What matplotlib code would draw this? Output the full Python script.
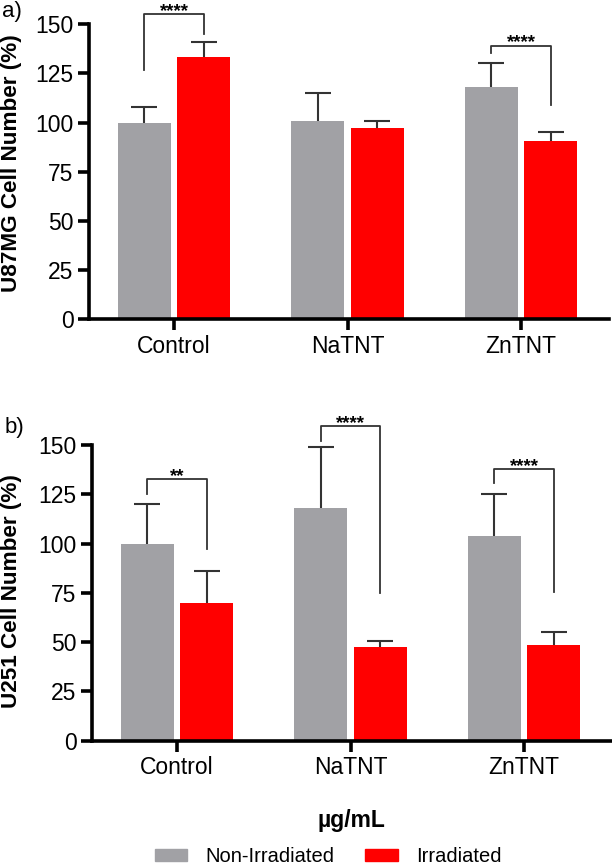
import numpy as np
import matplotlib
matplotlib.use("Agg")
from matplotlib import pyplot as plt
from matplotlib.patches import Patch

plt.rcParams["font.family"] = ["Liberation Sans", "DejaVu Sans"]

# data
groups = ["Control", "NaTNT", "ZnTNT"]

u87_non = [100, 100.6, 118.2]
u87_non_sd = [8, 14.7, 12.2]
u87_irr = [133.6, 97.5, 90.7]
u87_irr_sd = [7.6, 3.5, 4.8]

u251_non = [100, 117.9, 103.8]
u251_non_sd = [20, 31, 21.3]
u251_irr = [69.6, 47.6, 48.3]
u251_irr_sd = [16.4, 2.9, 6.8]

# significance brackets: group index, left leg bottom, top, right leg bottom, stars
u87_sig = [(0, 126.8, 155.2, 145, "****"), (2, 135.3, 139.2, 109, "****")]
u251_sig = [(0, 125, 132.6, 97, "**"), (1, 152, 159.7, 74.7, "****"),
            (2, 130.5, 138, 75.4, "****")]

grey = "#a1a1a5"
red = "#ff0000"
dark = "#333333"
off = 0.172
bw = 0.305

fig = plt.figure(figsize=(6.12, 8.67), dpi=100)
ax1 = fig.add_axes([0.1454, 0.6315, 0.8505, 0.3405])
ax2 = fig.add_axes([0.1503, 0.1459, 0.8505, 0.3408])


def panel(ax, non, non_sd, irr, irr_sd, sig):
    x = np.arange(len(groups))
    ax.bar(x - off, non, bw, color=grey, zorder=2)
    ax.bar(x + off, irr, bw, color=red, zorder=2)
    for xs, v, s in [(x - off, non, non_sd), (x + off, irr, irr_sd)]:
        eb = ax.errorbar(xs, v, yerr=[np.zeros(len(v)), s], fmt="none",
                         ecolor=dark, elinewidth=1.5, capsize=9.5,
                         capthick=1.5, zorder=3, clip_on=False)
        eb[1][0].set_visible(False)  # only the upper cap
    for g, yl, yt, yr, stars in sig:
        x0, x1 = g - off, g + off
        ax.plot([x0, x0, x1, x1], [yl, yt, yt, yr], color=dark, lw=1.3,
                clip_on=False, zorder=4)
        ax.text(g, yt - 1.0, stars, ha="center", va="baseline", fontsize=13.5,
                fontweight="bold", clip_on=False)
    ax.set_xlim(-0.49, 2.51)
    ax.set_ylim(0, 150)
    ax.set_yticks([0, 25, 50, 75, 100, 125, 150])
    ax.set_xticks(x)
    ax.set_xticklabels(groups)
    for sp in ["top", "right"]:
        ax.spines[sp].set_visible(False)
    for sp in ["left", "bottom"]:
        ax.spines[sp].set_linewidth(2.6)
    ax.tick_params(axis="both", width=2.6, length=8, labelsize=16.5, pad=3)


panel(ax1, u87_non, u87_non_sd, u87_irr, u87_irr_sd, u87_sig)
panel(ax2, u251_non, u251_non_sd, u251_irr, u251_irr_sd, u251_sig)

fig.text(0.019, 0.812, "U87MG Cell Number (%)", fontsize=16.2,
         fontweight="bold", rotation=90, ha="center", va="center")
fig.text(0.019, 0.318, "U251 Cell Number (%)", fontsize=16.2,
         fontweight="bold", rotation=90, ha="center", va="center")

fig.text(0.003, 0.999, "a)", fontsize=16, ha="left", va="top")
fig.text(0.008, 0.519, "b)", fontsize=16, ha="left", va="top")
fig.text(0.5735, 0.054, "µg/mL", fontsize=16.5, fontweight="bold",
         ha="center", va="center")

handles = [Patch(color=grey, label="Non-Irradiated"),
           Patch(color=red, label="Irradiated")]
fig.legend(handles=handles, loc="center", bbox_to_anchor=(0.536, 0.012),
           ncol=2, frameon=False, fontsize=14.5, handlelength=1.6,
           handleheight=0.5, handletextpad=0.9, columnspacing=1.55,
           borderpad=0)

fig.savefig("out.png", dpi=100)
